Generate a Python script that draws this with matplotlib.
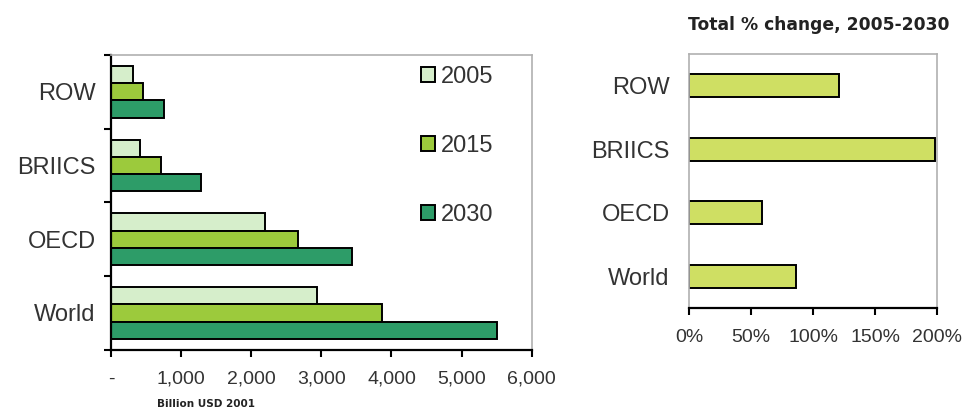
import numpy as np
import matplotlib
matplotlib.use("Agg")
import matplotlib.pyplot as plt
from matplotlib.patches import Patch
from matplotlib.ticker import FuncFormatter

plt.rcParams['font.family'] = ['Liberation Sans', 'DejaVu Sans']

# data
regions = ["World", "OECD", "BRIICS", "ROW"]
years = ["2005", "2015", "2030"]
gdp_2005 = [2940, 2190, 410, 320]
gdp_2015 = [3860, 2660, 710, 460]
gdp_2030 = [5500, 3440, 1290, 760]
pct_change = [86, 59, 198, 121]

colors = ["#d6eecb", "#9cca3c", "#2d9c68"]
pct_color = "#cfdf63"
grey = "#b0b0b0"
txt = "#333333"

fig = plt.figure(figsize=(9.65, 4.13), dpi=100)

# ---- left: absolute values
ax = fig.add_axes([0.115, 0.153, 0.436, 0.714])
y = np.arange(len(regions))
h = 0.235
for vals, off, col in zip([gdp_2005, gdp_2015, gdp_2030], [h, 0, -h], colors):
	ax.barh(y + off, vals, height=h, color=col, edgecolor="black", linewidth=1.4)

ax.set_xlim(0, 6000)
ax.set_ylim(-0.5, len(regions) - 0.5)
ax.set_xticks(np.arange(0, 6001, 1000))
ax.xaxis.set_major_formatter(FuncFormatter(lambda v, p: "-" if v == 0 else f"{int(v):,}"))
ax.set_yticks(np.arange(-0.5, len(regions), 1.0))
ax.set_yticklabels([])
ax.set_yticks(y, minor=True)
ax.set_yticklabels(regions, minor=True)
ax.tick_params(axis="y", which="minor", length=0, labelsize=17, pad=11, colors=txt)
ax.tick_params(axis="y", which="major", length=5, width=1.5, direction="out")
ax.tick_params(axis="x", length=5, width=1.5, direction="out", labelsize=14, pad=10,
			   labelcolor=txt)
for s in ["left", "bottom"]:
	ax.spines[s].set_linewidth(1.6)
for s in ["top", "right"]:
	ax.spines[s].set_color(grey)
	ax.spines[s].set_linewidth(1.2)

handles = [Patch(facecolor=c, edgecolor="black", linewidth=1.4) for c in colors]
ax.legend(handles, years, loc="upper right", frameon=False, fontsize=17,
		  labelspacing=2.0, handlelength=0.6, handleheight=0.6, handletextpad=0.25,
		  bbox_to_anchor=(0.96, 1.035), labelcolor=txt)

fig.text(0.163, 0.015, "Billion USD 2001", fontsize=7.5, fontweight="bold",
		 family="DejaVu Sans", color="#222222")

# ---- right: total % change
ax2 = fig.add_axes([0.714, 0.254, 0.257, 0.615])
ax2.barh(y, pct_change, height=0.36, color=pct_color, edgecolor="black", linewidth=1.4)
ax2.set_xlim(0, 200)
ax2.set_ylim(-0.5, len(regions) - 0.5)
ax2.set_xticks(np.arange(0, 201, 50))
ax2.xaxis.set_major_formatter(FuncFormatter(lambda v, p: f"{int(v)}%"))
ax2.set_yticks(y)
ax2.set_yticklabels(regions)
ax2.tick_params(axis="y", length=0, labelsize=17, pad=14, labelcolor=txt)
ax2.tick_params(axis="x", length=5, width=1.5, direction="out", labelsize=14, pad=10,
				labelcolor=txt)
ax2.spines["bottom"].set_linewidth(1.6)
for s in ["top", "right", "left"]:
	ax2.spines[s].set_color(grey)
	ax2.spines[s].set_linewidth(1.2)

fig.text(0.848, 0.94, "Total % change, 2005-2030", fontsize=12.3, fontweight="bold",
		 family="DejaVu Sans", ha="center", va="center", color="#222222")

fig.savefig("out.png", dpi=100)
